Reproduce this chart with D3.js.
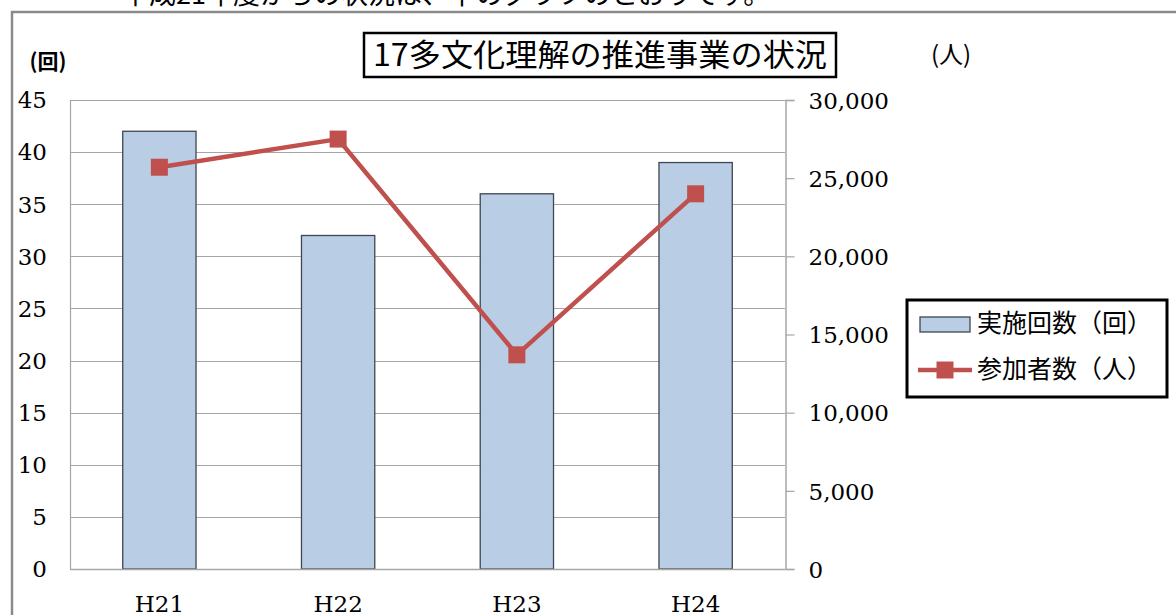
<!DOCTYPE html>
<html lang="ja">
<head>
<meta charset="UTF-8">
<script src="https://d3js.org/d3.v7.min.js"></script>
<style>
  body { margin: 0; background: #fff; }
  svg { display: block; }
  .tick-label { font-family: "DejaVu Serif", serif; font-size: 23px; fill: #000; }
  .jp { font-family: "Noto Sans CJK JP", sans-serif; fill: #000; }
</style>
<title>17多文化理解の推進事業の状況</title>
</head>
<body>
<div id="chart"></div>
<script>
// data
const years = ["H21", "H22", "H23", "H24"];
const sessions = [42, 32, 36, 39];              // 実施回数（回）
const participants = [25700, 27500, 13700, 24000]; // 参加者数（人）
const leftTicks = [0, 5, 10, 15, 20, 25, 30, 35, 40, 45];
const rightTicks = [0, 5000, 10000, 15000, 20000, 25000, 30000];

const W = 1176, H = 615;
const plot = { left: 70, right: 785, top: 100, bottom: 569 };

const svg = d3.select("#chart").append("svg")
    .attr("width", W)
    .attr("height", H);

// sentence from the page above, mostly cut off
svg.append("text")
    .attr("class", "jp")
    .attr("x", 122)
    .attr("y", 4)
    .attr("font-size", 27)
    .text("平成21年度からの状況は、下のグラフのとおりです。");

// outer chart frame
svg.append("rect")
    .attr("x", 12).attr("y", 12)
    .attr("width", 1300).attr("height", 800)
    .attr("fill", "none")
    .attr("stroke", "#8a8a8a")
    .attr("stroke-width", 2.5);

const x = d3.scaleBand()
    .domain(years)
    .range([plot.left, plot.right])
    .padding(0);
const barW = x.bandwidth() * 0.41;

const yL = d3.scaleLinear().domain([0, 45]).range([plot.bottom, plot.top]);
const yR = d3.scaleLinear().domain([0, 30000]).range([plot.bottom, plot.top]);

// gridlines
svg.append("g")
    .selectAll("line")
    .data(leftTicks)
    .join("line")
    .attr("x1", plot.left).attr("x2", plot.right)
    .attr("y1", d => Math.round(yL(d)) + 0.5)
    .attr("y2", d => Math.round(yL(d)) + 0.5)
    .attr("stroke", "#a6a6a6")
    .attr("stroke-width", 1.2);

// plot area left border
svg.append("line")
    .attr("x1", plot.left + 0.5).attr("x2", plot.left + 0.5)
    .attr("y1", plot.top).attr("y2", plot.bottom)
    .attr("stroke", "#a6a6a6").attr("stroke-width", 1.2);

// left labels
svg.append("g")
    .selectAll("text")
    .data(leftTicks)
    .join("text")
    .attr("class", "tick-label")
    .attr("x", 47)
    .attr("y", d => yL(d))
    .attr("dy", "0.36em")
    .attr("text-anchor", "end")
    .text(d => d);

// right axis
const rightAxis = d3.axisRight(yR)
    .tickValues(rightTicks)
    .tickSize(9)
    .tickPadding(14)
    .tickFormat(d3.format(","));
const ra = svg.append("g")
    .attr("transform", `translate(${plot.right + 0.5},0)`)
    .call(rightAxis);
ra.select(".domain").attr("stroke", "#a6a6a6").attr("stroke-width", 1.5);
ra.selectAll(".tick line").attr("stroke", "#a6a6a6").attr("stroke-width", 1.2);
ra.selectAll(".tick text")
    .attr("class", "tick-label")
    .attr("fill", "#000")
    .attr("dy", "0.36em");

// bars
svg.append("g")
    .selectAll("rect")
    .data(sessions)
    .join("rect")
    .attr("x", (d, i) => x(years[i]) + (x.bandwidth() - barW) / 2)
    .attr("y", d => yL(d))
    .attr("width", barW)
    .attr("height", d => yL(0) - yL(d))
    .attr("fill", "#b9cde5")
    .attr("stroke", "#3f4650")
    .attr("stroke-width", 1.3);

// bottom axis line
svg.append("line")
    .attr("x1", plot.left).attr("x2", plot.right)
    .attr("y1", plot.bottom + 0.5).attr("y2", plot.bottom + 0.5)
    .attr("stroke", "#a6a6a6").attr("stroke-width", 1.5);

// x labels
svg.append("g")
    .selectAll("text")
    .data(years)
    .join("text")
    .attr("class", "tick-label")
    .attr("x", d => x(d) + x.bandwidth() / 2)
    .attr("y", 612)
    .attr("text-anchor", "middle")
    .text(d => d);

// participants line
const cx = (d, i) => x(years[i]) + x.bandwidth() / 2;
const line = d3.line()
    .x(cx)
    .y(d => yR(d));
svg.append("path")
    .datum(participants)
    .attr("d", line)
    .attr("fill", "none")
    .attr("stroke", "#c0504d")
    .attr("stroke-width", 4.5);

const mk = 17;
svg.append("g")
    .selectAll("rect")
    .data(participants)
    .join("rect")
    .attr("x", (d, i) => cx(d, i) - mk / 2)
    .attr("y", d => yR(d) - mk / 2)
    .attr("width", mk).attr("height", mk)
    .attr("fill", "#c0504d");

// title
svg.append("rect")
    .attr("x", 364).attr("y", 33)
    .attr("width", 472).attr("height", 44)
    .attr("fill", "#fff")
    .attr("stroke", "#000")
    .attr("stroke-width", 2.5);
svg.append("text")
    .attr("class", "jp")
    .attr("x", 600)
    .attr("y", 55)
    .attr("dy", "0.36em")
    .attr("text-anchor", "middle")
    .attr("font-size", 31)
    .attr("font-weight", 400)
    .attr("textLength", 454)
    .attr("lengthAdjust", "spacingAndGlyphs")
    .text("17多文化理解の推進事業の状況");

// axis unit labels
svg.append("text")
    .attr("class", "jp")
    .attr("x", 48).attr("y", 61)
    .attr("dy", "0.36em")
    .attr("text-anchor", "middle")
    .attr("font-size", 21)
    .attr("font-weight", 700)
    .text("(回)");
svg.append("text")
    .attr("class", "jp")
    .attr("x", 951).attr("y", 54)
    .attr("dy", "0.36em")
    .attr("text-anchor", "middle")
    .attr("font-size", 24)
    .text("(人)");

// legend
const lg = svg.append("g");
lg.append("rect")
    .attr("x", 907).attr("y", 300)
    .attr("width", 260).attr("height", 97)
    .attr("fill", "#fff")
    .attr("stroke", "#000")
    .attr("stroke-width", 3);
lg.append("rect")
    .attr("x", 920).attr("y", 317)
    .attr("width", 50).attr("height", 15)
    .attr("fill", "#b9cde5")
    .attr("stroke", "#3f4650")
    .attr("stroke-width", 1.3);
lg.append("text")
    .attr("class", "jp")
    .attr("x", 977).attr("y", 323)
    .attr("dy", "0.36em")
    .attr("font-size", 25)
    .text("実施回数（回）");
lg.append("line")
    .attr("x1", 918).attr("x2", 972)
    .attr("y1", 370).attr("y2", 370)
    .attr("stroke", "#c0504d")
    .attr("stroke-width", 4.5);
lg.append("rect")
    .attr("x", 945 - mk / 2).attr("y", 370 - mk / 2)
    .attr("width", mk).attr("height", mk)
    .attr("fill", "#c0504d");
lg.append("text")
    .attr("class", "jp")
    .attr("x", 977).attr("y", 369)
    .attr("dy", "0.36em")
    .attr("font-size", 25)
    .text("参加者数（人）");
</script>
</body>
</html>
